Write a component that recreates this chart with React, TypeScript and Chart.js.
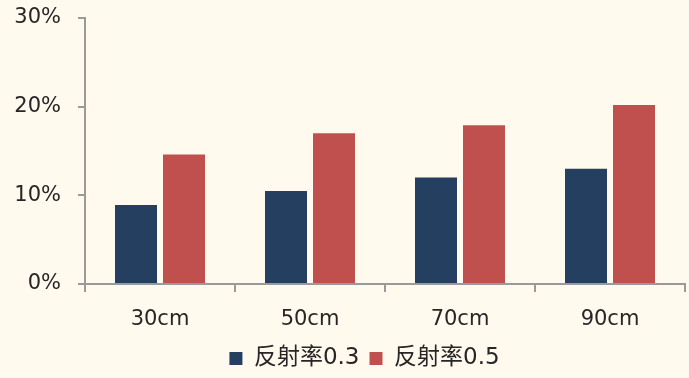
import React, { useEffect, useRef } from "react";
import { Chart, registerables } from "chart.js";

Chart.register(...registerables);

const categories = ["30cm", "50cm", "70cm", "90cm"];
const series03 = [8.9, 10.5, 12.0, 13.0];
const series05 = [14.6, 17.0, 17.9, 20.2];
const seriesNames = ["反射率0.3", "反射率0.5"];
const yTicks = [0, 10, 20, 30];

const FONT = "'DejaVu Sans', 'Noto Sans CJK SC', sans-serif";
const AXIS = "#9a9a9a";
const TEXT = "#262626";

export default function App() {
  const ref = useRef<HTMLCanvasElement | null>(null);
  useEffect(() => {
    document.body.style.margin = "0";
    const bg = {
      id: "bg",
      beforeDraw(c: any) {
        const ctx = c.ctx;
        ctx.save();
        ctx.fillStyle = "#FFF9EE";
        ctx.fillRect(0, 0, c.width, c.height);
        ctx.restore();
      },
    };
    const shiftLegend = {
      id: "shiftLegend",
      afterLayout(c: any) {
        const lg = c.legend;
        if (lg) {
          lg.left += 22;
          lg.right += 22;
          lg.top += 2;
          lg.bottom += 2;
        }
      },
    };
    const chart = new Chart(ref.current as HTMLCanvasElement, {
      type: "bar",
      data: {
        labels: categories,
        datasets: [
          {
            label: seriesNames[0],
            data: series03,
            backgroundColor: "#243F60",
            categoryPercentage: 0.64,
            barPercentage: 0.875,
          },
          {
            label: seriesNames[1],
            data: series05,
            backgroundColor: "#C0504D",
            categoryPercentage: 0.64,
            barPercentage: 0.875,
          },
        ],
      },
      options: {
        animation: false,
        responsive: false,
        layout: { padding: { top: 18, right: 4, left: 0, bottom: 0 } },
        plugins: {
          tooltip: { enabled: false },
          legend: {
            position: "bottom",
            labels: {
              boxWidth: 13,
              boxHeight: 13,
              padding: 10,
              color: TEXT,
              font: { family: FONT, size: 23 },
            },
          },
        },
        scales: {
          x: {
            afterFit(scale: any) {
              scale.height = 51;
            },
            grid: {
              display: true,
              drawOnChartArea: false,
              offset: true,
              tickLength: 8,
              color: AXIS,
              lineWidth: 2,
            },
            border: { color: AXIS, width: 2 },
            ticks: { color: TEXT, padding: 15, font: { family: FONT, size: 21 } },
          },
          y: {
            min: 0,
            max: 30,
            afterBuildTicks(scale: any) {
              scale.ticks = yTicks.map((v) => ({ value: v }));
            },
            afterFit(scale: any) {
              scale.width = 85;
              scale.paddingTop = 0;
              scale.paddingBottom = 0;
            },
            grid: {
              display: true,
              drawOnChartArea: false,
              tickLength: 7,
              color: AXIS,
              lineWidth: 2,
            },
            border: { color: AXIS, width: 2 },
            ticks: {
              color: TEXT,
              padding: 17,
              font: { family: FONT, size: 21 },
              callback: (v: any) => v + "%",
            },
          },
        },
      },
      plugins: [bg, shiftLegend],
    });
    return () => chart.destroy();
  }, []);
  return (
    <div style={{ width: 689, height: 378 }}>
      <canvas ref={ref} width={689} height={378} />
    </div>
  );
}
